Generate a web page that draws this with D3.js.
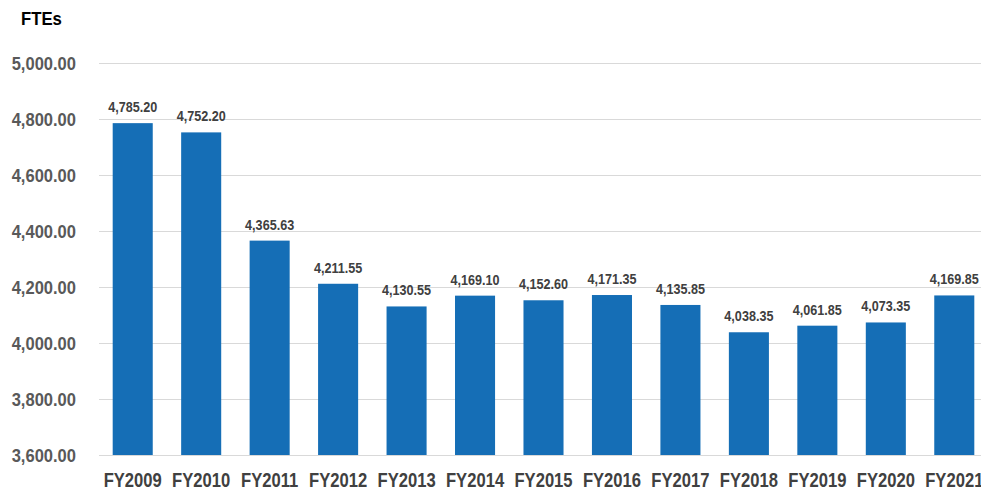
<!DOCTYPE html>
<html>
<head>
<meta charset="utf-8">
<script src="https://cdn.jsdelivr.net/npm/d3@7"></script>
<style>
  body { margin: 0; background: #fff; }
  svg text { font-family: "Liberation Sans", Arial, sans-serif; }
</style>
</head>
<body>
<div id="chart"></div>
<script>
// Data
const years = ["FY2009", "FY2010", "FY2011", "FY2012", "FY2013", "FY2014", "FY2015",
               "FY2016", "FY2017", "FY2018", "FY2019", "FY2020", "FY2021"];
const ftes = [4785.20, 4752.20, 4365.63, 4211.55, 4130.55, 4169.10, 4152.60,
              4171.35, 4135.85, 4038.35, 4061.85, 4073.35, 4169.85];
const yTicks = [3600, 3800, 4000, 4200, 4400, 4600, 4800, 5000];

const width = 981, height = 490;
const fmt = d3.format(",.2f");

// squeeze text horizontally to mimic a narrow font
function narrow(sel, f) {
    sel.each(function () {
        const w = this.getComputedTextLength();
        this.setAttribute("textLength", w * f);
        this.setAttribute("lengthAdjust", "spacingAndGlyphs");
    });
}

const svg = d3.select("#chart").append("svg")
    .attr("width", width)
    .attr("height", height);

const x = d3.scaleBand()
    .domain(years)
    .range([99, 988])
    .paddingInner(0.415)
    .paddingOuter(0.2);

const y = d3.scaleLinear()
    .domain([3600, 5000])
    .range([455, 63]);

// gridlines
svg.append("g")
    .selectAll("line")
    .data(yTicks)
    .join("line")
    .attr("x1", 99)
    .attr("x2", 981)
    .attr("y1", d => y(d) + 0.5)
    .attr("y2", d => y(d) + 0.5)
    .attr("stroke", "#d9d9d9")
    .attr("stroke-width", 1);

// y axis labels
const yAxis = d3.axisLeft(y).tickValues(yTicks).tickFormat(fmt).tickSize(0).tickPadding(0);
svg.append("g")
    .attr("transform", "translate(76,0)")
    .call(yAxis)
    .call(g => g.select(".domain").remove())
    .selectAll("text")
    .attr("fill", "#595959")
    .attr("font-size", 19)
    .attr("font-weight", "bold")
    .attr("dy", "0.35em")
    .call(narrow, 0.87);

// bars
svg.append("g")
    .selectAll("rect")
    .data(ftes)
    .join("rect")
    .attr("x", (d, i) => x(years[i]))
    .attr("width", x.bandwidth())
    .attr("y", d => y(d))
    .attr("height", d => y(3600) - y(d))
    .attr("fill", "#156EB6");

// value labels
svg.append("g")
    .selectAll("text")
    .data(ftes)
    .join("text")
    .attr("x", (d, i) => x(years[i]) + x.bandwidth() / 2)
    .attr("y", d => y(d) - 11)
    .attr("text-anchor", "middle")
    .attr("font-size", 15)
    .attr("font-weight", "bold")
    .attr("fill", "#404040")
    .text(d => fmt(d))
    .call(narrow, 0.84);

// x axis labels
const xAxis = d3.axisBottom(x).tickSize(0).tickPadding(0);
svg.append("g")
    .attr("transform", "translate(0,455)")
    .call(xAxis)
    .call(g => g.select(".domain").remove())
    .selectAll("text")
    .attr("fill", "#404040")
    .attr("font-size", 20)
    .attr("font-weight", "bold")
    .attr("dy", null)
    .attr("y", 32)
    .call(narrow, 0.83);

// title
svg.append("text")
    .attr("x", 21)
    .attr("y", 25)
    .attr("font-size", 18)
    .attr("font-weight", "bold")
    .attr("fill", "#000")
    .text("FTEs")
    .call(narrow, 0.93);
</script>
</body>
</html>
